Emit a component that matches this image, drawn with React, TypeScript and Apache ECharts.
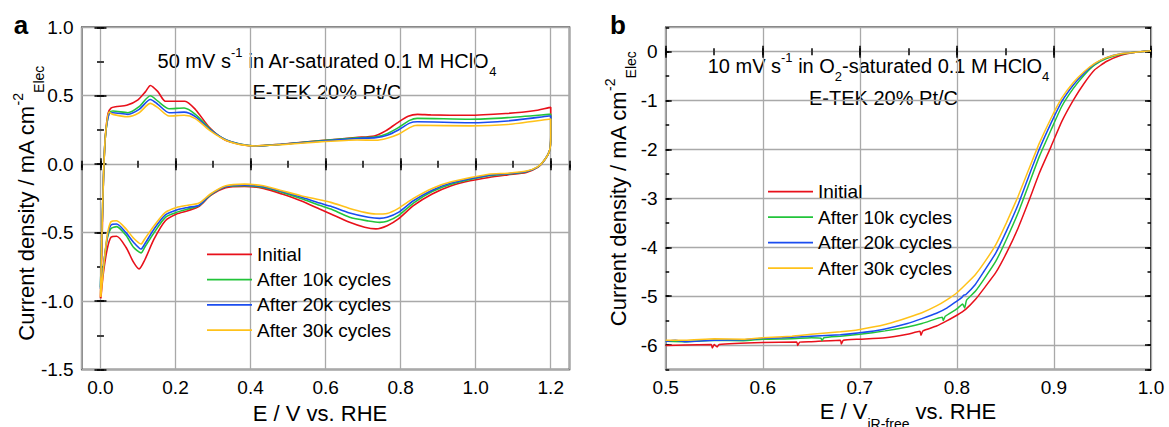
import React, { useEffect, useRef } from "react";
import * as echarts from "echarts";

const FONT = "'Liberation Sans', Arial, Helvetica, sans-serif";
const GRID_COLOR = "#a9a9a9";

const seriesNames = ["Initial", "After 10k cycles", "After 20k cycles", "After 30k cycles"];
const seriesColors = ["#e8101a", "#22c43a", "#1a4cf0", "#ffc21a"];

// Panel a: CV curves [E (V vs RHE), j (mA cm^-2)]
const cvInitialAnodic: number[][] = [
  [0.0, -0.98], [0.004, -0.6], [0.008, -0.1], [0.013, 0.2], [0.02, 0.37], [0.028, 0.41], [0.04, 0.42],
  [0.07, 0.43], [0.1, 0.47], [0.12, 0.53], [0.133, 0.575], [0.153, 0.53], [0.173, 0.46], [0.2, 0.46],
  [0.225, 0.46], [0.253, 0.4], [0.29, 0.27], [0.33, 0.18], [0.37, 0.146], [0.41, 0.133], [0.48, 0.146],
  [0.58, 0.17], [0.68, 0.195], [0.73, 0.206], [0.76, 0.243], [0.79, 0.3], [0.82, 0.35], [0.845, 0.364],
  [0.88, 0.36], [0.98, 0.357], [1.08, 0.37], [1.155, 0.39], [1.195, 0.413], [1.2, 0.415],
];
const cvInitialCathodic: number[][] = [
  [1.2, 0.2], [1.197, 0.1], [1.185, 0.036], [1.165, -0.024], [1.135, -0.06], [1.085, -0.078],
  [1.035, -0.097], [0.985, -0.121], [0.935, -0.158], [0.884, -0.218], [0.834, -0.303], [0.794, -0.4],
  [0.764, -0.45], [0.734, -0.473], [0.704, -0.461], [0.664, -0.425], [0.614, -0.364], [0.584, -0.328],
  [0.534, -0.267], [0.484, -0.218], [0.434, -0.177], [0.384, -0.163], [0.334, -0.172], [0.293, -0.23],
  [0.263, -0.308], [0.233, -0.34], [0.203, -0.364], [0.173, -0.413], [0.143, -0.546], [0.118, -0.7],
  [0.103, -0.765], [0.088, -0.716], [0.068, -0.607], [0.043, -0.527], [0.028, -0.534], [0.018, -0.62],
  [0.008, -0.79], [0.001, -0.98],
];
const cv10kAnodic: number[][] = [
  [0.0, -0.9], [0.004, -0.5], [0.008, -0.1], [0.013, 0.2], [0.023, 0.376], [0.033, 0.388], [0.073, 0.376],
  [0.103, 0.42], [0.133, 0.5], [0.153, 0.46], [0.183, 0.405], [0.223, 0.41], [0.253, 0.364], [0.293, 0.255],
  [0.334, 0.178], [0.374, 0.146], [0.414, 0.133], [0.484, 0.146], [0.584, 0.17], [0.684, 0.192],
  [0.734, 0.2], [0.764, 0.223], [0.794, 0.267], [0.824, 0.32], [0.844, 0.335], [0.985, 0.328],
  [1.085, 0.34], [1.195, 0.364], [1.2, 0.366],
];
const cv10kCathodic: number[][] = [
  [1.2, 0.2], [1.197, 0.1], [1.185, 0.036], [1.165, -0.022], [1.135, -0.055], [1.085, -0.072],
  [1.035, -0.085], [0.935, -0.146], [0.884, -0.2], [0.834, -0.284], [0.794, -0.376], [0.764, -0.417],
  [0.744, -0.425], [0.714, -0.415], [0.664, -0.388], [0.614, -0.328], [0.584, -0.3], [0.534, -0.25],
  [0.484, -0.206], [0.434, -0.17], [0.384, -0.158], [0.334, -0.165], [0.293, -0.226], [0.263, -0.303],
  [0.233, -0.328], [0.203, -0.352], [0.173, -0.388], [0.143, -0.5], [0.118, -0.607], [0.108, -0.648],
  [0.088, -0.607], [0.068, -0.52], [0.043, -0.456], [0.028, -0.47], [0.018, -0.546], [0.008, -0.74],
  [0.001, -0.9],
];
const cv20kAnodic: number[][] = [
  [0.0, -0.91], [0.004, -0.5], [0.008, -0.1], [0.013, 0.2], [0.023, 0.37], [0.033, 0.376], [0.073, 0.364],
  [0.103, 0.4], [0.133, 0.473], [0.153, 0.437], [0.183, 0.376], [0.223, 0.38], [0.253, 0.347], [0.293, 0.25],
  [0.334, 0.178], [0.374, 0.145], [0.414, 0.133], [0.484, 0.146], [0.584, 0.168], [0.684, 0.188],
  [0.734, 0.194], [0.764, 0.211], [0.794, 0.25], [0.824, 0.3], [0.844, 0.31], [0.985, 0.303],
  [1.085, 0.316], [1.195, 0.352], [1.2, 0.354],
];
const cv20kCathodic: number[][] = [
  [1.2, 0.2], [1.197, 0.1], [1.185, 0.036], [1.165, -0.022], [1.135, -0.053], [1.085, -0.07],
  [1.035, -0.08], [0.935, -0.138], [0.884, -0.19], [0.834, -0.267], [0.794, -0.352], [0.764, -0.388],
  [0.744, -0.396], [0.714, -0.388], [0.664, -0.357], [0.614, -0.308], [0.584, -0.284], [0.534, -0.24],
  [0.484, -0.2], [0.434, -0.165], [0.384, -0.153], [0.334, -0.163], [0.293, -0.223], [0.263, -0.3],
  [0.233, -0.316], [0.203, -0.335], [0.173, -0.371], [0.143, -0.473], [0.118, -0.583], [0.108, -0.62],
  [0.088, -0.57], [0.068, -0.5], [0.043, -0.437], [0.028, -0.444], [0.018, -0.534], [0.008, -0.75],
  [0.001, -0.91],
];
const cv30kAnodic: number[][] = [
  [0.0, -0.97], [0.004, -0.5], [0.008, -0.1], [0.013, 0.2], [0.023, 0.38], [0.033, 0.364], [0.073, 0.347],
  [0.103, 0.376], [0.133, 0.444], [0.153, 0.413], [0.183, 0.352], [0.223, 0.357], [0.253, 0.333],
  [0.293, 0.243], [0.334, 0.175], [0.374, 0.143], [0.414, 0.133], [0.484, 0.143], [0.584, 0.163],
  [0.684, 0.177], [0.734, 0.175], [0.764, 0.19], [0.794, 0.218], [0.824, 0.267], [0.844, 0.284],
  [0.985, 0.28], [1.085, 0.29], [1.195, 0.328], [1.2, 0.33],
];
const cv30kCathodic: number[][] = [
  [1.2, 0.2], [1.197, 0.1], [1.185, 0.036], [1.165, -0.02], [1.135, -0.05], [1.085, -0.066],
  [1.035, -0.073], [0.935, -0.129], [0.884, -0.177], [0.834, -0.25], [0.794, -0.323], [0.764, -0.36],
  [0.734, -0.364], [0.704, -0.352], [0.664, -0.323], [0.614, -0.279], [0.584, -0.26], [0.534, -0.23],
  [0.484, -0.194], [0.434, -0.158], [0.384, -0.146], [0.334, -0.158], [0.293, -0.218], [0.263, -0.284],
  [0.233, -0.3], [0.203, -0.316], [0.173, -0.352], [0.143, -0.449], [0.118, -0.546], [0.108, -0.583],
  [0.088, -0.54], [0.068, -0.473], [0.043, -0.413], [0.028, -0.42], [0.018, -0.52], [0.008, -0.76],
  [0.001, -0.97],
];

// Panel b: ORR polarization curves [E (V_iR-free vs RHE), j (mA cm^-2)]
const orrInitial: number[][] = [
  [0.5, -6.01], [0.52, -6.0], [0.547, -5.99], [0.548, -6.06], [0.55, -5.99], [0.553, -6.04], [0.555, -5.99],
  [0.6, -5.95], [0.635, -5.94], [0.636, -6.01], [0.638, -5.94], [0.65, -5.93], [0.68, -5.9], [0.681, -5.98],
  [0.683, -5.9], [0.7, -5.88], [0.726, -5.85], [0.749, -5.78], [0.762, -5.72], [0.763, -5.8], [0.765, -5.71],
  [0.779, -5.61], [0.79, -5.5], [0.8, -5.39], [0.809, -5.27], [0.819, -5.07], [0.828, -4.84], [0.84, -4.52],
  [0.851, -4.12], [0.863, -3.61], [0.874, -3.06], [0.885, -2.48], [0.897, -1.94], [0.908, -1.43],
  [0.92, -0.99], [0.931, -0.65], [0.942, -0.37], [0.954, -0.2], [0.969, -0.07], [0.984, -0.01], [1.0, 0.02],
];
const orr10k: number[][] = [
  [0.5, -5.92], [0.52, -5.93], [0.55, -5.9], [0.58, -5.91], [0.6, -5.88], [0.63, -5.87], [0.65, -5.85],
  [0.66, -5.86], [0.661, -5.91], [0.663, -5.85], [0.68, -5.82], [0.7, -5.78], [0.726, -5.71], [0.749, -5.63],
  [0.764, -5.56], [0.779, -5.46], [0.785, -5.43], [0.786, -5.5], [0.788, -5.41], [0.8, -5.26], [0.806, -5.16],
  [0.808, -5.24], [0.81, -5.08], [0.819, -4.9], [0.828, -4.65], [0.84, -4.29], [0.851, -3.84], [0.863, -3.3],
  [0.874, -2.72], [0.885, -2.14], [0.897, -1.6], [0.908, -1.12], [0.92, -0.75], [0.931, -0.48],
  [0.942, -0.27], [0.954, -0.14], [0.969, -0.05], [0.984, -0.01], [1.0, 0.02],
];
const orr20k: number[][] = [
  [0.5, -5.93], [0.51, -5.9], [0.52, -5.93], [0.55, -5.9], [0.58, -5.89], [0.6, -5.86], [0.62, -5.85],
  [0.65, -5.82], [0.68, -5.79], [0.7, -5.75], [0.726, -5.67], [0.749, -5.56], [0.764, -5.46], [0.779, -5.35],
  [0.79, -5.24], [0.8, -5.1], [0.805, -5.03], [0.807, -4.98], [0.809, -4.97], [0.819, -4.76], [0.828, -4.49],
  [0.84, -4.12], [0.851, -3.67], [0.863, -3.13], [0.874, -2.55], [0.885, -1.99], [0.897, -1.46],
  [0.908, -1.02], [0.92, -0.68], [0.931, -0.44], [0.942, -0.25], [0.954, -0.12], [0.969, -0.04],
  [0.984, -0.01], [1.0, 0.02],
];
const orr30k: number[][] = [
  [0.5, -5.9], [0.52, -5.9], [0.55, -5.87], [0.58, -5.88], [0.6, -5.85], [0.63, -5.82], [0.65, -5.78],
  [0.68, -5.73], [0.7, -5.68], [0.726, -5.58], [0.749, -5.44], [0.764, -5.34], [0.779, -5.2], [0.79, -5.07],
  [0.8, -4.93], [0.809, -4.76], [0.819, -4.56], [0.828, -4.32], [0.84, -3.95], [0.851, -3.5], [0.863, -2.96],
  [0.874, -2.41], [0.885, -1.87], [0.897, -1.36], [0.908, -0.95], [0.92, -0.63], [0.931, -0.41],
  [0.942, -0.24], [0.954, -0.12], [0.969, -0.04], [0.984, -0.01], [1.0, 0.02],
];

const cvData = [
  [...cvInitialAnodic, ...cvInitialCathodic],
  [...cv10kAnodic, ...cv10kCathodic],
  [...cv20kAnodic, ...cv20kCathodic],
  [...cv30kAnodic, ...cv30kCathodic],
];
const orrData = [orrInitial, orr10k, orr20k, orr30k];

function tick(len: number) {
  return { show: true, inside: true, length: len, lineStyle: { color: "#000", width: 1.5 } };
}

const labelStyle = { fontSize: 19, color: "#000", fontFamily: FONT, margin: 8 };

function valAxis(extra: any) {
  return {
    type: "value",
    axisLine: { show: false },
    splitLine: { show: false },
    axisLabel: { show: false },
    ...extra,
  };
}

export default function App() {
  const ref = useRef<HTMLDivElement>(null);

  useEffect(() => {
    document.body.style.margin = "0";
    if (!ref.current) return;
    const chart = echarts.init(ref.current, undefined, { renderer: "svg" });

    const xAxis = [
      // panel a
      valAxis({
        gridIndex: 0, position: "bottom", min: -0.05, max: 1.25, splitNumber: 6, axisTick: tick(6),
        axisLabel: { ...labelStyle, show: true, showMinLabel: false, showMaxLabel: false, formatter: (v: number) => v.toFixed(1) },
        splitLine: { show: true, lineStyle: { color: GRID_COLOR, width: 1.3 } },
      }),
      valAxis({ gridIndex: 0, position: "bottom", min: -0.05, max: 1.25, splitNumber: 13, axisTick: tick(3.5) }),
      valAxis({ gridIndex: 0, position: "top", min: -0.05, max: 1.25, splitNumber: 6, axisTick: tick(6) }),
      valAxis({ gridIndex: 0, position: "top", min: -0.05, max: 1.25, splitNumber: 13, axisTick: tick(3.5) }),
      // panel b
      valAxis({
        gridIndex: 1, position: "bottom", min: 0.5, max: 1.0, interval: 0.1, axisTick: tick(6),
        axisLabel: { ...labelStyle, show: true, formatter: (v: number) => v.toFixed(1) },
        splitLine: { show: true, lineStyle: { color: GRID_COLOR, width: 1.3 } },
      }),
      valAxis({ gridIndex: 1, position: "bottom", min: 0.5, max: 1.0, interval: 0.05, axisTick: tick(3.5) }),
      valAxis({ gridIndex: 1, position: "top", min: 0.5, max: 1.0, interval: 0.1, axisTick: tick(6) }),
      valAxis({ gridIndex: 1, position: "top", min: 0.5, max: 1.0, interval: 0.05, axisTick: tick(3.5) }),
    ];

    const yAxis = [
      // panel a
      valAxis({
        gridIndex: 0, position: "left", min: -1.5, max: 1.0, interval: 0.5, axisTick: tick(6),
        axisLabel: { ...labelStyle, show: true, formatter: (v: number) => v.toFixed(1) },
        splitLine: { show: true, lineStyle: { color: GRID_COLOR, width: 1.3 } },
      }),
      valAxis({ gridIndex: 0, position: "left", min: -1.5, max: 1.0, interval: 0.25, axisTick: tick(3.5) }),
      valAxis({ gridIndex: 0, position: "right", min: -1.5, max: 1.0, interval: 0.5, axisTick: tick(6) }),
      valAxis({ gridIndex: 0, position: "right", min: -1.5, max: 1.0, interval: 0.25, axisTick: tick(3.5) }),
      // panel b
      valAxis({
        gridIndex: 1, position: "left", min: -6.5, max: 0.5, splitNumber: 7, axisTick: tick(6),
        axisLabel: { ...labelStyle, show: true, showMinLabel: false, showMaxLabel: false, formatter: (v: number) => String(Math.round(v)) },
        splitLine: { show: true, lineStyle: { color: GRID_COLOR, width: 1.3 } },
      }),
      valAxis({ gridIndex: 1, position: "left", min: -6.5, max: 0.5, interval: 0.5, axisTick: tick(3.5) }),
      valAxis({ gridIndex: 1, position: "right", min: -6.5, max: 0.5, splitNumber: 7, axisTick: tick(6) }),
      valAxis({ gridIndex: 1, position: "right", min: -6.5, max: 0.5, interval: 0.5, axisTick: tick(3.5) }),
    ];

    const series: any[] = [];
    seriesNames.forEach((name, i) => {
      series.push({
        type: "line", name, xAxisIndex: 0, yAxisIndex: 0, data: cvData[i], symbol: "none",
        smooth: 0.25, lineStyle: { color: seriesColors[i], width: 1.6 }, itemStyle: { color: seriesColors[i] },
      });
    });
    seriesNames.forEach((name, i) => {
      series.push({
        type: "line", name, xAxisIndex: 4, yAxisIndex: 4, data: orrData[i], symbol: "none",
        smooth: 0.15, lineStyle: { color: seriesColors[i], width: 1.5 }, itemStyle: { color: seriesColors[i] },
      });
    });

    const legendCommon = {
      orient: "vertical", icon: "rect", itemWidth: 45, itemHeight: 1.8, selectedMode: false,
      data: seriesNames, textStyle: { fontSize: 19, lineHeight: 20, color: "#000", fontFamily: FONT },
    };

    const annRich = {
      a: { fontSize: 20, lineHeight: 34, fontFamily: FONT, fill: "#000" },
      sup: { fontSize: 13, lineHeight: 13, verticalAlign: "top", padding: [2, 0, 0, 0], fontFamily: FONT, fill: "#000" },
      sub: { fontSize: 13, lineHeight: 13, verticalAlign: "bottom", fontFamily: FONT, fill: "#000" },
    };
    const titleRich = {
      a: { fontSize: 22, lineHeight: 40, fontFamily: FONT, fill: "#000" },
      sup: { fontSize: 14, lineHeight: 14, verticalAlign: "top", padding: [5, 0, 0, 0], fontFamily: FONT, fill: "#000" },
      sub: { fontSize: 14, lineHeight: 14, verticalAlign: "bottom", fontFamily: FONT, fill: "#000" },
    };

    const txt = (x: number, y: number, text: string, rich: any, rotation = 0) => ({
      type: "text", x, y, rotation, silent: true,
      style: { text, rich, fill: "#000", align: "center", verticalAlign: "middle", fontFamily: FONT, fontSize: 20 },
    });

    chart.setOption({
      animation: false,
      backgroundColor: "#fff",
      grid: [
        { left: 81.7, top: 27.3, width: 487.8, height: 342.2, show: true, borderColor: "#000", borderWidth: 1.5, backgroundColor: "transparent" },
        { left: 665.7, top: 27.3, width: 485.3, height: 342.2, show: true, borderColor: "#000", borderWidth: 1.5, backgroundColor: "transparent" },
      ],
      xAxis,
      yAxis,
      legend: [
        { ...legendCommon, left: 202, top: 239.3, itemGap: 5.3 },
        { ...legendCommon, left: 763, top: 176.7, itemGap: 5.5 },
      ],
      series,
      graphic: [
        {
          type: "text", x: 21, y: 25, silent: true,
          style: { text: "a", fill: "#000", fontFamily: FONT, fontSize: 26, fontWeight: "bold", align: "center", verticalAlign: "middle" },
        },
        {
          type: "text", x: 618, y: 25, silent: true,
          style: { text: "b", fill: "#000", fontFamily: FONT, fontSize: 26, fontWeight: "bold", align: "center", verticalAlign: "middle" },
        },
        txt(327, 61, "{a|50 mV s}{sup|-1}{a| in Ar-saturated 0.1 M HClO}{sub|4}", annRich),
        txt(327, 92, "{a|E-TEK 20% Pt/C}", annRich),
        txt(878.5, 66, "{a|10 mV s}{sup|-1}{a| in O}{sub|2}{a|-saturated 0.1 M HClO}{sub|4}", annRich),
        txt(883.5, 98, "{a|E-TEK 20% Pt/C}", annRich),
        txt(320, 413, "{a|E / V vs. RHE}", titleRich),
        txt(908, 411, "{a|E / V}{sub|iR-free}{a| vs. RHE}", titleRich),
        txt(26, 203.5, "{a|Current density / mA cm}{sup|-2}{sub|Elec}", titleRich, Math.PI / 2),
        txt(618, 189, "{a|Current density / mA cm}{sup|-2}{sub|Elec}", titleRich, Math.PI / 2),
      ],
    });

    return () => chart.dispose();
  }, []);

  return <div ref={ref} style={{ width: 1169, height: 427 }} />;
}
